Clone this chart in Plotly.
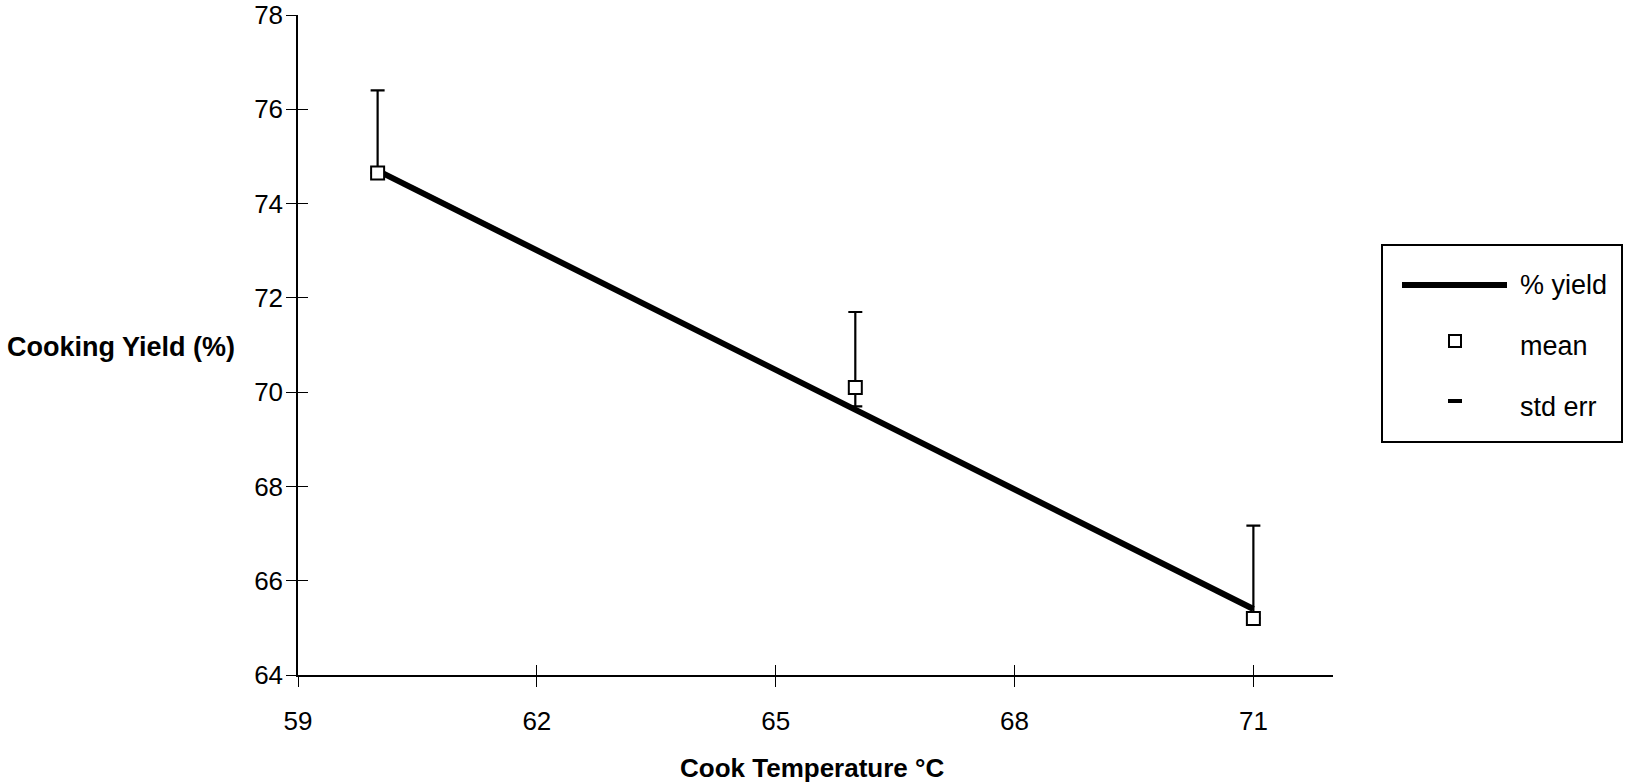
import plotly.graph_objects as go

# Cooking yield vs. cook temperature
temps = [60, 66, 71]
mean_yield = [74.65, 70.1, 65.2]
std_err_up = [1.75, 1.6, 1.97]
std_err_down = [0.0, 0.4, 0.0]

# fitted % yield line
fit_temps = [60, 71]
fit_yield = [74.7, 65.4]

x_ticks = [59, 62, 65, 68, 71]
y_ticks = [64, 66, 68, 70, 72, 74, 76, 78]

FONT = "Liberation Sans, Arial, Helvetica, sans-serif"
W, H = 1625, 782
L, R, T, B = 298, 292, 15, 107
PW, PH = W - L - R, H - T - B


def px_x(px):
    return (px - L) / PW


def px_y(py):
    return (H - B - py) / PH


fig = go.Figure()

fig.add_trace(go.Scatter(
    x=fit_temps, y=fit_yield, mode="lines",
    line=dict(color="black", width=6),
    showlegend=False, hoverinfo="skip",
))

fig.add_trace(go.Scatter(
    x=temps, y=mean_yield, mode="markers",
    marker=dict(symbol="square", size=13, color="white",
                line=dict(color="black", width=2)),
    error_y=dict(type="data", symmetric=False, array=std_err_up,
                 arrayminus=std_err_down, color="black",
                 thickness=2.2, width=7),
    showlegend=False,
))

# invisible trace carrying the overlay axes (inner half of crossing ticks)
fig.add_trace(go.Scatter(x=[None], y=[None], xaxis="x2", yaxis="y2",
                         showlegend=False, hoverinfo="skip"))

axis_common = dict(showgrid=False, zeroline=False, ticklen=10,
                   tickwidth=1, tickcolor="black", automargin=False)

fig.update_layout(
    width=W, height=H,
    margin=dict(l=L, r=R, t=T, b=B),
    paper_bgcolor="white", plot_bgcolor="white",
    font=dict(family=FONT, size=26, color="black"),
    xaxis=dict(range=[59, 72], tickvals=x_ticks, ticks="outside",
               showline=True, linecolor="black", linewidth=2,
               ticklabelstandoff=12, **axis_common),
    yaxis=dict(range=[64, 78], tickvals=y_ticks, ticks="outside",
               showline=True, linecolor="black", linewidth=1.5,
               ticklabelstandoff=-2, **axis_common),
    xaxis2=dict(range=[59, 72], tickvals=x_ticks, ticks="inside",
                overlaying="x", anchor="y2", side="bottom",
                showticklabels=False, showline=False, **axis_common),
    yaxis2=dict(range=[64, 78], tickvals=y_ticks, ticks="inside",
                overlaying="y", anchor="x2", side="left",
                showticklabels=False, showline=False, **axis_common),
)

# axis titles
fig.add_annotation(text="<b>Cooking Yield (%)</b>", xref="paper", yref="paper",
                   x=px_x(5), y=px_y(347), xanchor="left", yanchor="middle",
                   showarrow=False, font=dict(size=27))
fig.add_annotation(text="<b>Cook Temperature °C</b>", xref="paper", yref="paper",
                   x=px_x(812), y=px_y(768), xanchor="center", yanchor="middle",
                   showarrow=False, font=dict(size=26))

# legend box
fig.add_shape(type="rect", xref="paper", yref="paper",
              x0=px_x(1382), x1=px_x(1622), y0=px_y(442), y1=px_y(245),
              line=dict(color="black", width=2), fillcolor="white", layer="below")
fig.add_shape(type="line", xref="paper", yref="paper",
              x0=px_x(1402), x1=px_x(1507), y0=px_y(285), y1=px_y(285),
              line=dict(color="black", width=6))
fig.add_shape(type="rect", xref="paper", yref="paper",
              x0=px_x(1449), x1=px_x(1461), y0=px_y(347), y1=px_y(335),
              line=dict(color="black", width=2), fillcolor="white")
fig.add_shape(type="line", xref="paper", yref="paper",
              x0=px_x(1448), x1=px_x(1462), y0=px_y(401), y1=px_y(401),
              line=dict(color="black", width=4))

legend_labels = ["% yield", "mean", "std err"]
legend_rows = [285, 346, 407]
for label, row in zip(legend_labels, legend_rows):
    fig.add_annotation(text=label, xref="paper", yref="paper",
                       x=px_x(1518), y=px_y(row), xanchor="left", yanchor="middle",
                       showarrow=False, font=dict(size=27))

fig.write_html("out.html")
